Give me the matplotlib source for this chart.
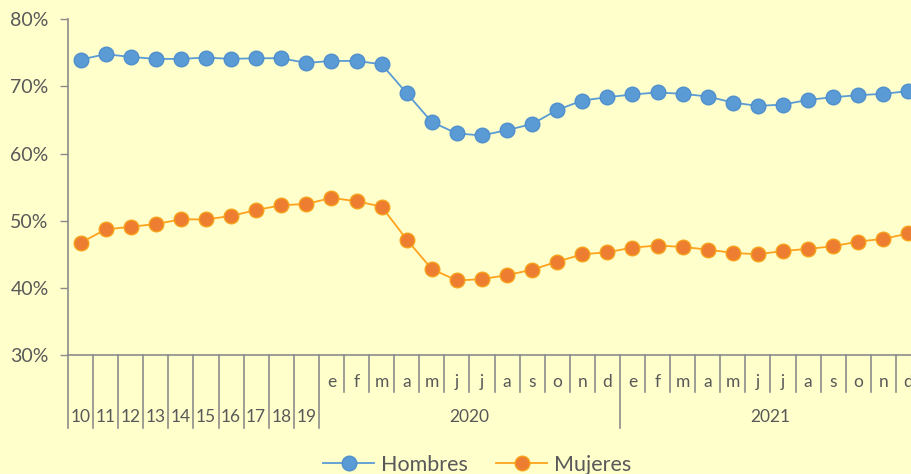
import matplotlib.pyplot as plt
from matplotlib.lines import Line2D

# categorías del eje x
anios = ['10', '11', '12', '13', '14', '15', '16', '17', '18', '19']
meses = ['e', 'f', 'm', 'a', 'm', 'j', 'j', 'a', 's', 'o', 'n', 'd']
grupos = ['2020', '2021']
etiquetas = anios + meses + meses

# tasas (%)
hombres = [74.0, 74.8, 74.4, 74.1, 74.1, 74.3, 74.1, 74.2, 74.2, 73.5,
           73.8, 73.8, 73.3, 69.0, 64.7, 63.0, 62.7, 63.5, 64.4, 66.5, 67.9, 68.4,
           68.8, 69.1, 68.9, 68.5, 67.6, 67.1, 67.3, 68.0, 68.4, 68.7, 68.9, 69.3]
mujeres = [46.7, 48.7, 49.1, 49.5, 50.2, 50.2, 50.7, 51.6, 52.3, 52.5,
           53.4, 52.9, 52.1, 47.2, 42.8, 41.1, 41.3, 41.9, 42.7, 43.9, 45.0, 45.3,
           46.0, 46.3, 46.1, 45.7, 45.2, 45.0, 45.5, 45.8, 46.2, 46.9, 47.3, 48.1]

fondo = '#FFFFCC'
gris = '#595959'
linea_eje = '#8C8C8C'
azul = '#5B9BD5'
naranja = '#ED7D31'
naranja_linea = '#FFA21C'

plt.rcParams['font.family'] = ['Lato', 'DejaVu Sans']

fig = plt.figure(figsize=(9.12, 4.74), dpi=100, facecolor=fondo)
ax = fig.add_axes([68 / 912, 1 - 355 / 474, 853 / 912, (355 - 19.3) / 474])
ax.set_facecolor(fondo)

x = list(range(len(etiquetas)))
ax.plot(x, hombres, color=azul, lw=1.3, marker='o', ms=10.5,
        mfc=azul, mec='#4F8FCC', mew=1, label='Hombres', clip_on=False, zorder=3)
ax.plot(x, mujeres, color=naranja_linea, lw=1.3, marker='o', ms=10.5,
        mfc=naranja, mec='#F7A11A', mew=1, label='Mujeres', clip_on=False, zorder=3)

ax.set_xlim(-0.5, len(etiquetas) - 0.5)
ax.set_ylim(30, 80)
ax.set_yticks([30, 40, 50, 60, 70, 80])
ax.set_yticklabels(['30%', '40%', '50%', '60%', '70%', '80%'])
ax.tick_params(axis='y', length=6, width=1, color=linea_eje, labelcolor=gris,
               labelsize=14, pad=8)
ax.set_xticks([])

for s in ['top', 'right']:
    ax.spines[s].set_visible(False)
for s in ['left', 'bottom']:
    ax.spines[s].set_color(linea_eje)
    ax.spines[s].set_linewidth(1.2)

tr = ax.get_xaxis_transform()
y_mes = -0.0795
y_anio = -0.185
corto = -0.110
largo = -0.2175

# etiquetas de categoría
for i, et in enumerate(etiquetas):
    yy = y_anio if i < len(anios) else y_mes
    ax.text(i, yy, et, transform=tr, ha='center', va='center',
            fontsize=12.5, color=gris, clip_on=False)

# etiquetas de grupo (años 2020, 2021)
ini = len(anios)
for g in grupos:
    centro = ini + len(meses) / 2 - 0.5
    ax.text(centro, y_anio, g, transform=tr, ha='center', va='center',
            fontsize=12.5, color=gris, clip_on=False)
    ini += len(meses)

# separadores
limites_largos = [i - 0.5 for i in range(len(anios) + 1)] + \
    [len(anios) + len(meses) - 0.5, len(etiquetas) - 0.5]
for k in range(len(etiquetas) + 1):
    b = k - 0.5
    fondo_linea = largo if b in limites_largos else corto
    ax.plot([b, b], [0, fondo_linea], transform=tr, color=linea_eje,
            lw=1.2, clip_on=False)

handles = [
    Line2D([], [], color=azul, lw=1.3, marker='o', ms=10.5, mfc=azul, mec='#4F8FCC'),
    Line2D([], [], color=naranja_linea, lw=1.3, marker='o', ms=10.5, mfc=naranja, mec='#F7A11A'),
]
fig.legend(handles, ['Hombres', 'Mujeres'], loc='center', bbox_to_anchor=(0.523, 0.02),
           ncol=2, frameon=False, fontsize=15.5, labelcolor=gris,
           handlelength=2.4, handletextpad=0.3, columnspacing=1.3)

fig.savefig('out.png', dpi=100, facecolor=fondo)
